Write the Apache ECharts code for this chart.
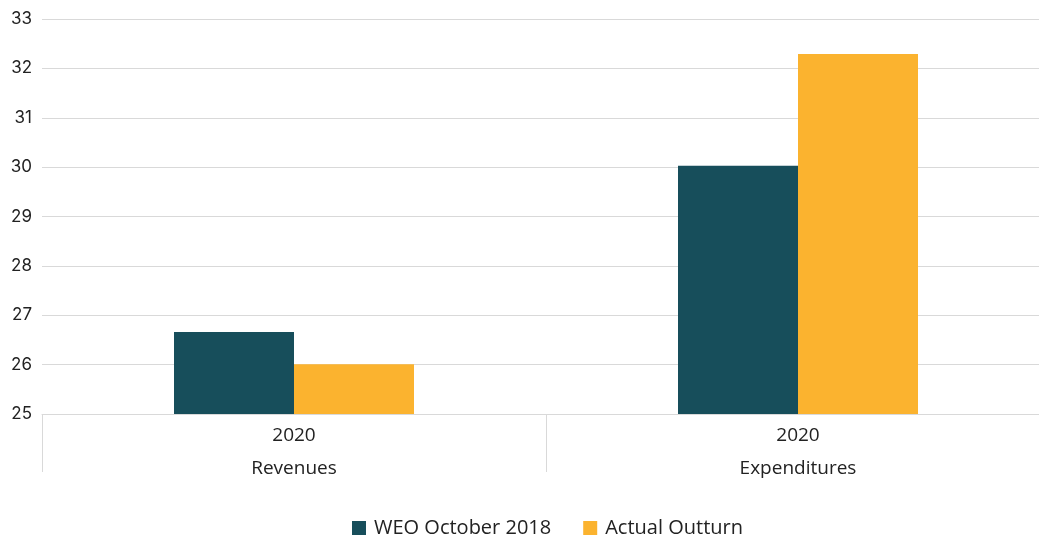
<!DOCTYPE html>
<html>
<head>
<meta charset="utf-8">
<script src="https://cdn.jsdelivr.net/npm/echarts@6/dist/echarts.min.js"></script>
<style>
  html, body { margin: 0; padding: 0; background: #fff; }
  #main { width: 1039px; height: 537px; }
</style>
</head>
<body>
<div id="main"></div>
<script>
// data
const categories = ['Revenues', 'Expenditures']
const yearLabels = ['2020', '2020']
const weoOct2018 = [26.66, 30.03]
const actualOutturn = [26.01, 32.29]

const chart = echarts.init(document.getElementById('main'))

const labelFont = '"Open Sans", sans-serif'

const option = {
  animation: false,
  textStyle: { fontFamily: labelFont },
  grid: { left: 42, width: 1008, top: 19, height: 395, outerBoundsMode: 'none' },
  legend: {
    bottom: -6,
    left: 347,
    itemWidth: 14,
    itemHeight: 14,
    itemGap: 32,
    icon: 'rect',
    textStyle: { fontSize: 20, color: '#222', fontFamily: labelFont, padding: [0, 0, 0, 3] },
    data: ['WEO October 2018', 'Actual Outturn']
  },
  xAxis: {
    type: 'category',
    data: categories,
    axisLine: { lineStyle: { color: '#d9d9d9' } },
    axisTick: { show: true, length: 58, lineStyle: { color: '#d9d9d9' } },
    axisLabel: {
      margin: 5,
      formatter: function (value, idx) {
        return '{y|' + yearLabels[idx] + '}\n{c|' + value + '}'
      },
      rich: {
        y: { fontSize: 19, color: '#222', lineHeight: 33, fontFamily: labelFont },
        c: { fontSize: 19, color: '#222', lineHeight: 33, fontFamily: labelFont }
      }
    }
  },
  yAxis: {
    type: 'value',
    min: 25,
    max: 33,
    interval: 1,
    axisLine: { show: false },
    axisTick: { show: false },
    axisLabel: { fontSize: 17, color: '#222', margin: 10, fontFamily: 'Inter, sans-serif' },
    splitLine: { lineStyle: { color: '#d9d9d9', width: 1 } }
  },
  series: [
    {
      name: 'WEO October 2018',
      type: 'bar',
      data: weoOct2018,
      barWidth: 120,
      barGap: '0%',
      itemStyle: { color: '#174e5b' }
    },
    {
      name: 'Actual Outturn',
      type: 'bar',
      data: actualOutturn,
      barWidth: 120,
      barGap: '0%',
      itemStyle: { color: '#fbb32f' }
    }
  ]
}

chart.setOption(option)
</script>
</body>
</html>
